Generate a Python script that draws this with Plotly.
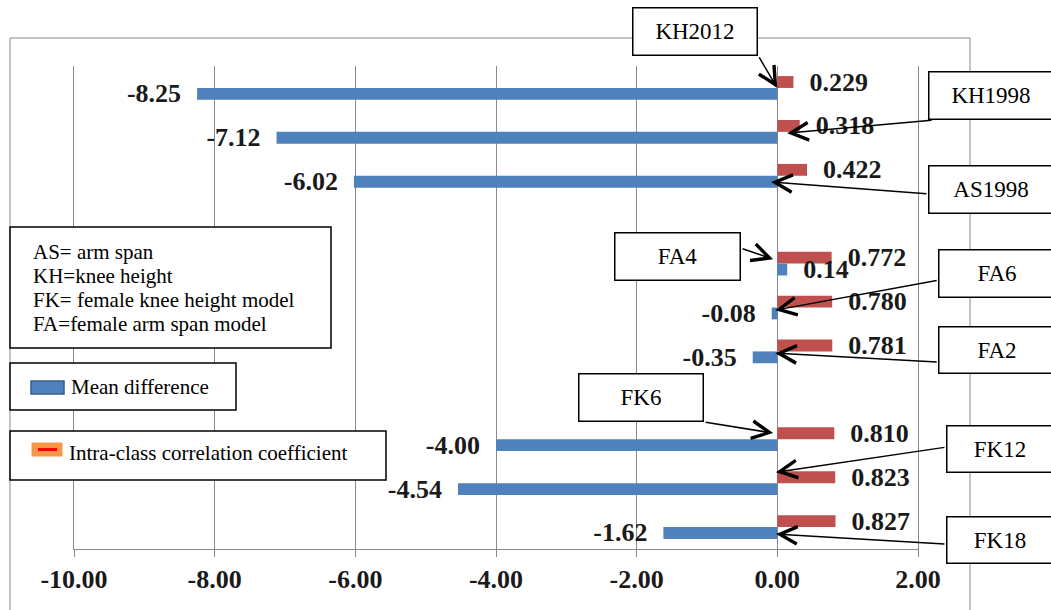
import plotly.graph_objects as go

# ---------------- data ----------------
categories = ["KH2012", "KH1998", "AS1998", "gap1", "FA4", "FA6", "FA2",
              "gap2", "FK6", "FK12", "FK18"]
mean_difference = [-8.25, -7.12, -6.02, None, 0.14, -0.08, -0.35,
                   None, -4.00, -4.54, -1.62]
icc_values = [0.229, 0.318, 0.422, None, 0.772, 0.780, 0.781,
              None, 0.810, 0.823, 0.827]
x_ticks = [-10, -8, -6, -4, -2, 0, 2]
x_tick_labels = ["-10.00", "-8.00", "-6.00", "-4.00", "-2.00", "0.00", "2.00"]

abbreviations = ["AS= arm span", "KH=knee height",
                 "FK= female knee height model", "FA=female arm span model"]
legend_md = "Mean difference"
legend_icc = "Intra-class correlation coefficient"

# label boxes: (text, box centre px, box left px, box top px, box bottom px)
label_boxes = [
    ("KH2012", 695, 632, 7, 56),
    ("KH1998", 991, 928, 71, 120),
    ("AS1998", 991, 928, 165, 214),
    ("FA4", 677.5, 614, 232, 281),
    ("FA6", 997, 938, 249, 298),
    ("FA2", 997, 938, 326, 374),
    ("FK6", 641, 578, 373, 422),
    ("FK12", 1000, 946, 425, 473),
    ("FK18", 1000, 946, 516, 564),
]
# arrows: tip in data coords (x value, category index), tail offset in px
arrows = [
    (0.0, 0.0, -19, -32),
    (0.14, 1.03, 146, -13),
    (-0.09, 2.14, 157, 12),
    (-0.06, 3.90, -32, -11),
    (-0.03, 5.06, 163, -30),
    (-0.03, 6.04, 163, 9),
    (-0.06, 7.86, -69, -11),
    (-0.02, 8.75, 170, -25),
    (-0.02, 10.16, 170, 10),
]

BLUE = "#4F81BD"
RED = "#C0504D"
SERIF = "Liberation Serif, Times New Roman, serif"
NB = "\u00a0\u00a0"

W, H = 1051, 610
ML, MR, MT, MB = 74, 133, 66, 61
PW, PH = W - ML - MR, H - MT - MB


def px(x):
    return (x - ML) / PW


def py(y):
    return (MT + PH - y) / PH


md_text = []
for v in mean_difference:
    if v is None:
        md_text.append("")
    elif v < 0:
        md_text.append(f"{v:.2f}{NB}")
    else:
        md_text.append(f"{NB}{v:.2f}")
icc_text = ["" if v is None else f"{NB}{v:.3f}" for v in icc_values]

fig = go.Figure()
fig.add_trace(go.Bar(
    y=categories, x=icc_values, orientation="h", name=legend_icc,
    marker=dict(color=RED, line=dict(width=0)),
    width=0.27, offset=-0.27,
    text=icc_text, textposition="outside", constraintext="none",
    cliponaxis=False,
    textfont=dict(family=SERIF, size=26, color="#1a1a1a", weight="bold"),
    showlegend=False,
))
fig.add_trace(go.Bar(
    y=categories, x=mean_difference, orientation="h", name=legend_md,
    marker=dict(color=BLUE, line=dict(width=0)),
    width=0.27, offset=0,
    text=md_text, textposition="outside", constraintext="none",
    cliponaxis=False,
    textfont=dict(family=SERIF, size=26, color="#1a1a1a", weight="bold"),
    showlegend=False,
))

shapes = []
# outer chart border
shapes.append(dict(type="rect", xref="paper", yref="paper",
                   x0=px(10), x1=px(970), y0=py(640), y1=py(38),
                   line=dict(color="#898989", width=1), fillcolor="rgba(0,0,0,0)",
                   layer="below"))
# legend boxes
for (x0, x1, y0, y1) in [(10, 331, 227, 348), (10, 236, 363, 410), (10, 386, 431, 480)]:
    shapes.append(dict(type="rect", xref="paper", yref="paper",
                       x0=px(x0), x1=px(x1), y0=py(y1), y1=py(y0),
                       line=dict(color="black", width=1.5), fillcolor="white",
                       layer="above"))
# legend symbols
shapes.append(dict(type="rect", xref="paper", yref="paper",
                   x0=px(31), x1=px(64), y0=py(394), y1=py(381),
                   line=dict(color="#385D8A", width=1.5), fillcolor=BLUE, layer="above"))
shapes.append(dict(type="rect", xref="paper", yref="paper",
                   x0=px(32), x1=px(62), y0=py(456), y1=py(443),
                   line=dict(color="#F79646", width=1), fillcolor="#F79646", layer="above"))
shapes.append(dict(type="line", xref="paper", yref="paper",
                   x0=px(38), x1=px(57), y0=py(449.5), y1=py(449.5),
                   line=dict(color="#FF0000", width=3), layer="above"))

annotations = []
for i, t in enumerate(abbreviations):
    annotations.append(dict(text=t, xref="paper", yref="paper",
                            x=px(31), y=py(252 + 24 * i), xanchor="left", yanchor="middle",
                            showarrow=False, font=dict(family=SERIF, size=21, color="black")))
annotations.append(dict(text=legend_md, xref="paper", yref="paper",
                        x=px(69), y=py(387), xanchor="left", yanchor="middle",
                        showarrow=False, font=dict(family=SERIF, size=21, color="black")))
annotations.append(dict(text=legend_icc, xref="paper", yref="paper",
                        x=px(67), y=py(453), xanchor="left", yanchor="middle",
                        showarrow=False, font=dict(family=SERIF, size=21, color="black")))

for (ax_, ay_, tx, ty) in [(a[2], a[3], a[0], a[1]) for a in arrows]:
    annotations.append(dict(text="", x=tx, y=ty, xref="x", yref="y",
                            ax=ax_, ay=ay_, showarrow=True, arrowhead=5,
                            arrowsize=2.3, arrowwidth=1.5, arrowcolor="black"))

for (t, cx, left, top, bottom) in label_boxes:
    w = 2 * (cx - left)
    h = bottom - top
    annotations.append(dict(text=t, xref="paper", yref="paper",
                            x=px(cx), y=py((top + bottom) / 2),
                            xanchor="center", yanchor="middle",
                            width=w - 3, height=h - 3, borderpad=0,
                            bordercolor="black", borderwidth=1.5, bgcolor="white",
                            showarrow=False,
                            font=dict(family=SERIF, size=23, color="black")))

fig.update_layout(
    width=W, height=H,
    margin=dict(l=ML, r=MR, t=MT, b=MB, pad=0),
    paper_bgcolor="white", plot_bgcolor="white",
    barmode="overlay",
    shapes=shapes, annotations=annotations,
    xaxis=dict(range=[-10, 2], tickvals=x_ticks, ticktext=x_tick_labels,
               showgrid=True, gridcolor="#898989", gridwidth=1,
               zeroline=False, showline=True, linecolor="#898989", linewidth=1,
               ticks="outside", ticklen=7, tickcolor="#898989",
               tickfont=dict(family=SERIF, size=26, color="#1a1a1a", weight="bold")),
    yaxis=dict(type="category", categoryorder="array", categoryarray=categories,
               range=[10.5, -0.5], showticklabels=False, showgrid=False,
               zeroline=False, showline=True, mirror=True,
               linecolor="#898989", linewidth=1, ticks=""),
    showlegend=False,
)

fig.write_html("out.html")
